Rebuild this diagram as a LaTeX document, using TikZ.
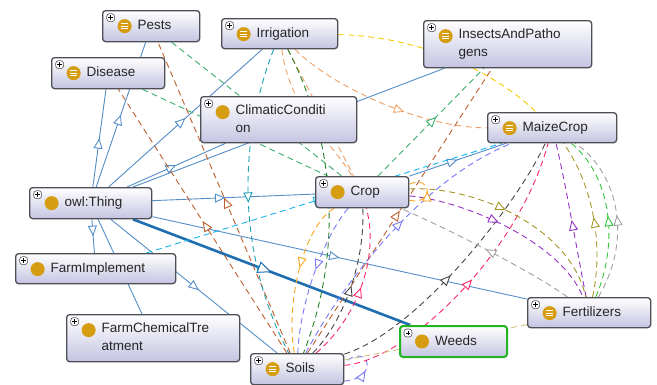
\documentclass[tikz,border=0pt]{standalone}
\usepackage{fontspec}
\setmainfont{Liberation Sans}
\usepackage{tikz}
\usetikzlibrary{backgrounds, arrows.meta, decorations.markings}

\definecolor{boxline}{RGB}{78,78,86}
\definecolor{boxlow}{RGB}{196,196,226}
\definecolor{iconball}{RGB}{214,156,18}
\definecolor{weedgreen}{RGB}{34,180,34}
\definecolor{isablue}{RGB}{84,142,200}
\definecolor{isadark}{RGB}{32,110,178}
\definecolor{cYellow}{RGB}{245,205,0}
\definecolor{cSand}{RGB}{240,160,100}
\definecolor{cSea}{RGB}{60,175,110}
\definecolor{cBrown}{RGB}{190,95,45}
\definecolor{cTeal}{RGB}{30,160,180}
\definecolor{cDkGreen}{RGB}{40,130,40}
\definecolor{cOrange}{RGB}{250,165,30}
\definecolor{cViolet}{RGB}{120,120,250}
\definecolor{cDkGray}{RGB}{70,70,70}
\definecolor{cPink}{RGB}{250,40,100}
\definecolor{cPurple}{RGB}{150,50,200}
\definecolor{cOlive}{RGB}{165,150,40}
\definecolor{cLime}{RGB}{50,200,60}
\definecolor{cGray}{RGB}{160,160,160}
\definecolor{cCyan}{RGB}{20,180,240}
\definecolor{cKhaki}{RGB}{210,195,130}

% text indent past the icons
\newcommand{\ind}{\hspace*{35pt}\strut}
% icons drawn inside every class box
\newcommand{\iconplus}{%
  \draw[boxline, fill=white, line width=0.6pt] ([shift={(4pt,-3pt)}]path picture bounding box.north west) rectangle ++(8pt,-8pt);
  \draw[black, line width=0.8pt] ([shift={(5.8pt,-7pt)}]path picture bounding box.north west) -- ++(4.4pt,0pt);
  \draw[black, line width=0.8pt] ([shift={(8pt,-4.8pt)}]path picture bounding box.north west) -- ++(0pt,-4.4pt);}
\newcommand{\iconcircle}{%
  \fill[iconball] ([shift={(22pt,-15.5pt)}]path picture bounding box.north west) circle (7pt);}
\newcommand{\iconlines}{%
  \foreach \dy in {-12.8pt,-15.5pt,-18.2pt}
    \draw[white, line width=1pt] ([shift={(18.8pt,\dy)}]path picture bounding box.north west) -- ++(6.4pt,0pt);}

\begin{document}
\begin{tikzpicture}[x=1pt, y=-1pt,
    cls/.style={draw=boxline, line width=1.3pt, rounded corners=3pt,
        top color=white, bottom color=boxlow, text=black!85,
        inner xsep=0pt, inner ysep=0pt, text width=#1, minimum height=30pt,
        align=left, anchor=north west, font=\fontsize{13.5}{18}\selectfont,
        path picture={\iconplus \iconcircle}},
    clsdef/.style={cls=#1, path picture={\iconplus \iconcircle \iconlines}},
    isa/.style={draw=isablue, line width=0.9pt},
    prop/.style={draw=#1, line width=0.9pt, dash pattern=on 6pt off 4pt},
    tri/.style={postaction={decorate}, decoration={markings, mark=at position #1 with
        {\arrow{Triangle[length=10.5pt, width=9pt, fill=white, line width=0.9pt]}}}},
    tri/.default=0.5,
    bigtri/.style={postaction={decorate}, decoration={markings, mark=at position #1 with
        {\arrow{Triangle[length=14pt, width=12pt, fill=white, line width=1pt]}}}},
    bigtri/.default=0.5]

    \useasboundingbox (0,0) rectangle (657,384);

    \node (pests) [clsdef=97pt, minimum height=31pt] at (102,10) {\ind Pests};
    \node (irrig) [clsdef=116pt] at (221,18) {\ind Irrigation};
    \node (insects) [clsdef=168pt, minimum height=47pt] at (423,20) {\ind InsectsAndPatho\\\ind gens};
    \node (disease) [clsdef=113pt, minimum height=31pt] at (51,57) {\ind Disease};
    \node (climatic) [cls=156pt, minimum height=46pt] at (200,96) {\ind ClimaticConditi\\\ind on};
    \node (maize) [clsdef=129pt] at (487,112) {\ind MaizeCrop};
    \node (thing) [cls=122pt, minimum height=31pt] at (29,187) {\ind owl:Thing};
    \node (crop) [cls=93pt, minimum height=31pt] at (315,176) {\ind Crop};
    \node (implement) [cls=160pt] at (15,253) {\ind FarmImplement};
    \node (chemical) [cls=173pt, minimum height=47pt] at (66,314) {\ind FarmChemicalTre\\\ind atment};
    \node (fert) [clsdef=123pt] at (527,297) {\ind Fertilizers};
    \node (weeds) [cls=107pt, minimum height=31pt, draw=weedgreen, line width=2pt] at (399,325) {\ind Weeds};
    \node (soils) [clsdef=93pt, minimum height=31pt] at (250,353) {\ind Soils};

    \begin{scope}[on background layer]
        \fill[white] (0,0) rectangle (657,384);

        % subclass lines
        \draw [isa, tri] (thing) -- (disease);
        \draw [isa, tri] (thing) -- (pests);
        \draw [isa, tri] (thing) -- (irrig);
        \draw [isa, tri] (thing) -- (climatic);
        \draw [isa, tri] (thing) -- (insects);
        \draw [isa, tri=0.45] (thing) -- (crop);
        \draw [isa, tri] (thing) -- (fert);
        \draw [isa, tri] (thing) -- (implement);
        \draw [isa, tri] (thing) -- (chemical);
        \draw [isa, tri=0.53] (thing) -- (soils);
        \draw [isa, draw=isadark, line width=2.6pt, bigtri] (thing) -- (weeds);
        \draw [isa, tri] (crop) -- (maize);

        % property lines
        \draw [prop=cYellow] (irrig) .. controls (420,36) and (495,72) .. (maize);
        \draw [prop=cSand, tri=0.6] (irrig) .. controls (330,85) and (420,128) .. (maize);
        \draw [prop=cSand, tri] (irrig) .. controls (290,110) and (330,140) .. (crop);
        \draw [prop=cSand, tri] (irrig) -- (crop);
        \draw [prop=cSea, tri] (pests) -- (crop);
        \draw [prop=cSea, tri] (disease) -- (crop);
        \draw [prop=cSea, tri=0.55] (crop) -- (insects);
        \draw [prop=cBrown, tri] (soils) -- (pests);
        \draw [prop=cBrown, tri] (soils) -- (disease);
        \draw [prop=cBrown, tri] (soils) -- (insects);
        \draw [prop=cTeal, tri] (irrig) .. controls (235,150) and (240,260) .. (soils);
        \draw [prop=cDkGreen, tri] (irrig) .. controls (340,150) and (340,260) .. (soils);
        \draw [prop=cOrange, tri=0.45] (crop) .. controls (305,225) and (285,300) .. (soils);
        \draw [prop=cViolet, tri=0.45] (crop) .. controls (325,235) and (300,300) .. (soils);
        \draw [prop=cViolet, tri=0.55] (soils) .. controls (350,270) and (430,175) .. (maize);
        \draw [prop=cViolet, tri=0.4] ([yshift=-12pt]soils.east) .. controls +(38pt,4pt) and +(22pt,22pt) .. ([yshift=6pt]soils.east);
        \draw [prop=cDkGray, tri] (soils) .. controls (345,320) and (365,260) .. (crop);
        \draw [prop=cDkGray, tri=0.45] (soils) .. controls (420,330) and (520,200) .. (maize);
        \draw [prop=cPink, tri] (soils) .. controls (355,320) and (380,260) .. (crop);
        \draw [prop=cPink, tri] (soils) .. controls (410,360) and (520,250) .. (maize);
        \draw [prop=cPurple, tri=0.45] (crop) .. controls (460,200) and (560,240) .. (fert);
        \draw [prop=cPurple, tri] (fert) .. controls (575,240) and (565,180) .. (maize);
        \draw [prop=cOlive, tri=0.45] (crop) .. controls (470,185) and (570,225) .. (fert);
        \draw [prop=cOlive, tri] (fert) .. controls (605,240) and (590,180) .. (maize);
        \draw [prop=cLime, tri] (fert) .. controls (620,240) and (610,175) .. (maize);
        \draw [prop=cGray, tri] (fert) .. controls (635,235) and (615,170) .. (maize);
        \draw [prop=cGray, tri] (fert) .. controls (530,270) and (440,225) .. (crop);
        \draw [prop=cCyan, tri] (implement) -- (maize);
        \draw [prop=cKhaki, tri] (soils) -- (fert);
        \draw [prop=cOrange, tri] ([yshift=-8pt]crop.east) .. controls +(24pt,-6pt) and +(24pt,10pt) .. ([yshift=8pt]crop.east);
    \end{scope}

\end{tikzpicture}
\end{document}
